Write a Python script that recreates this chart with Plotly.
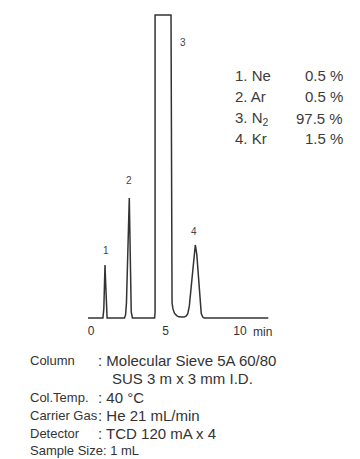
import plotly.graph_objects as go

# ---- data (time in min, signal in % of full scale) ----
time_min = [-0.2, 0.80, 0.86, 0.90, 0.94, 0.98, 1.02, 1.08,
            2.25, 2.32, 2.38, 2.44, 2.50, 2.57, 2.62, 2.66, 2.70, 2.78,
            4.27, 4.30, 4.30, 5.37, 5.40, 5.44, 5.50, 5.60, 5.75, 5.90, 6.10,
            6.25, 6.40, 6.50, 6.60, 6.70, 6.80, 6.90, 7.00, 7.10, 7.20, 7.30, 7.40, 7.50, 7.60,
            11.9]
signal = [0, 0, 3, 12, 17.5, 12, 3, 0,
          0, 1, 5, 15, 30, 39.6, 25, 8, 2, 0,
          0, 2, 100, 100, 30, 5, 3.0, 1.6, 0.8, 0.4, 0.3,
          0.3, 0.7, 1.5, 4, 9, 15, 21, 24.1, 21, 14, 6, 1.5, 0.3, 0,
          0]

peak_numbers = ["1", "2", "3", "4"]
peak_label_time = [0.98, 2.57, 6.17, 6.90]
peak_label_signal = [22.4, 45.5, 91.0, 28.4]

components = ["1. Ne", "2. Ar", "3. N<sub>2</sub>", "4. Kr"]
concentrations = ["0.5 %", "0.5 %", "97.5 %", "1.5 %"]

tick_values = [0, 5, 10]
tick_text = ["0", "5", "10"]

cond_labels = ["Column", "", "Col.Temp.", "Carrier Gas", "Detector", ""]
cond_values = [": Molecular Sieve 5A 60/80", "SUS 3 m x 3 mm I.D.", ": 40 \u00b0C",
               ": He 21 mL/min", ": TCD 120 mA x 4", "Sample Size: 1 mL"]

# ---- geometry (page body adds an 8 px margin, so the figure is offset by it) ----
OFF = 8
W, H = 360 - OFF, 459 - OFF
FONT = "Liberation Sans, Arial, sans-serif"
plot_bottom_ref = 322   # reference pixel row of plot bottom
base_ref = 318          # reference pixel row of the baseline
x0_ref = 91             # reference pixel column of t = 0
px_per_min = 14.9
px_per_unit = 3.03


def px(xr):
    return (xr - OFF) / W


def py(yr):
    return 1 - (yr - OFF) / H


fig = go.Figure()
fig.add_trace(go.Scatter(x=time_min, y=signal, mode="lines",
                         line=dict(color="#333333", width=1.5),
                         hoverinfo="skip", showlegend=False))

annotations = []
for n, tx, sy in zip(peak_numbers, peak_label_time, peak_label_signal):
    annotations.append(dict(x=tx, y=sy, xref="x", yref="y", text=n, showarrow=False,
                            font=dict(family=FONT, size=10, color="#444"),
                            xanchor="center", yanchor="middle"))

annotations.append(dict(x=10.75, y=py(332), xref="x", yref="paper", text="min",
                        showarrow=False, font=dict(family=FONT, size=12, color="#333"),
                        xanchor="left", yanchor="middle"))

legend_rows = [76, 97, 118, 138.5]
for comp, conc, ry in zip(components, concentrations, legend_rows):
    annotations.append(dict(x=px(233), y=py(ry), xref="paper", yref="paper", text=comp,
                            showarrow=False, font=dict(family=FONT, size=15, color="#3c3c3c"),
                            xanchor="left", yanchor="middle"))
    annotations.append(dict(x=px(345), y=py(ry), xref="paper", yref="paper", text=conc,
                            showarrow=False, font=dict(family=FONT, size=15, color="#3c3c3c"),
                            xanchor="right", yanchor="middle"))

cond_rows = [360, 378.5, 397, 415, 433, 450]
for i, (lab, val, ry) in enumerate(zip(cond_labels, cond_values, cond_rows)):
    if lab:
        annotations.append(dict(x=px(28), y=py(ry), xref="paper", yref="paper", text=lab,
                                showarrow=False, font=dict(family=FONT, size=13, color="#333"),
                                xanchor="left", yanchor="middle"))
    if i == 1:
        vx = 110
    elif i == 5:
        vx = 28
    else:
        vx = 96
    annotations.append(dict(x=px(vx), y=py(ry), xref="paper", yref="paper", text=val,
                            showarrow=False,
                            font=dict(family=FONT, size=13 if i == 5 else 15, color="#333"),
                            xanchor="left", yanchor="middle"))

fig.update_layout(
    width=W, height=H,
    margin=dict(l=0, r=0, t=0, b=0),
    paper_bgcolor="white", plot_bgcolor="white",
    xaxis=dict(range=[(OFF - x0_ref) / px_per_min, (360 - x0_ref) / px_per_min],
               showgrid=False, zeroline=False, showline=False, ticks="",
               tickvals=tick_values, ticktext=tick_text,
               tickfont=dict(family=FONT, size=12, color="#333"), fixedrange=True),
    yaxis=dict(domain=[1 - (plot_bottom_ref - OFF) / H, 1],
               range=[-(plot_bottom_ref - base_ref) / px_per_unit,
                      (base_ref - OFF) / px_per_unit],
               showgrid=False, zeroline=False, showline=False, showticklabels=False,
               ticks="", fixedrange=True),
    annotations=annotations,
    showlegend=False,
)

fig.write_html("out.html")
